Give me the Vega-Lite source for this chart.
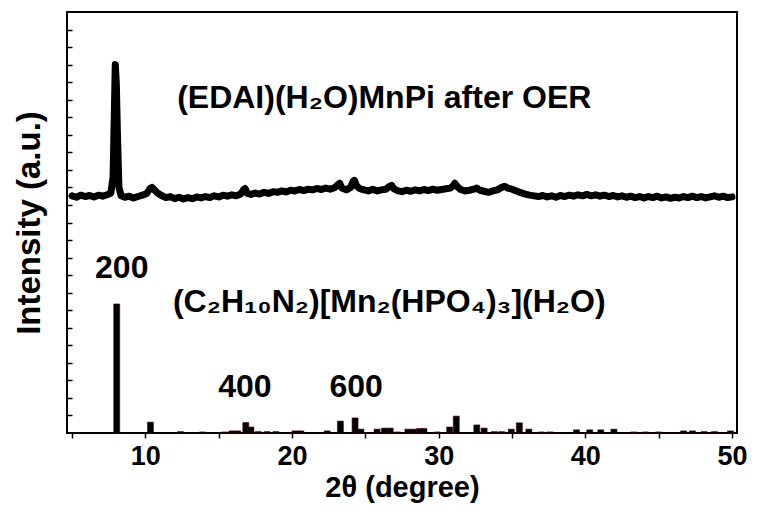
{
  "$schema": "https://vega.github.io/schema/vega-lite/v6.json",
  "width": 670,
  "height": 421,
  "autosize": "none",
  "padding": {"left": 67, "top": 12, "right": 20, "bottom": 78},
  "background": "white",
  "config": {
    "view": {"stroke": "black", "strokeWidth": 2},
    "font": "Liberation Sans",
    "axis": {"grid": false, "domain": false, "tickColor": "black", "labelColor": "black", "titleColor": "black", "labelFont": "Liberation Sans", "titleFont": "Liberation Sans"}
  },
  "datasets": {
    "trace": [
      {"t": 5.0, "v": 676}, {"t": 5.3, "v": 672}, {"t": 5.6, "v": 678}, {"t": 5.9, "v": 674}, {"t": 6.2, "v": 677}, {"t": 6.5, "v": 673}, {"t": 6.8, "v": 678}, {"t": 7.1, "v": 675}, {"t": 7.4, "v": 679}, {"t": 7.65, "v": 684}, {"t": 7.8, "v": 730}, {"t": 7.88, "v": 900}, {"t": 7.95, "v": 1050}, {"t": 8.02, "v": 1000}, {"t": 8.1, "v": 850}, {"t": 8.2, "v": 700}, {"t": 8.35, "v": 676}, {"t": 8.6, "v": 672}, {"t": 8.9, "v": 675}, {"t": 9.2, "v": 670}, {"t": 9.5, "v": 674}, {"t": 9.8, "v": 678}, {"t": 10.1, "v": 683}, {"t": 10.3, "v": 696}, {"t": 10.45, "v": 700}, {"t": 10.6, "v": 694}, {"t": 10.8, "v": 685}, {"t": 11.1, "v": 677}, {"t": 11.4, "v": 671}, {"t": 11.7, "v": 674}, {"t": 12.0, "v": 668}, {"t": 12.3, "v": 672}, {"t": 12.6, "v": 667}, {"t": 12.9, "v": 671}, {"t": 13.2, "v": 668}, {"t": 13.5, "v": 673}, {"t": 13.8, "v": 670}, {"t": 14.1, "v": 674}, {"t": 14.4, "v": 671}, {"t": 14.7, "v": 676}, {"t": 15.0, "v": 673}, {"t": 15.3, "v": 678}, {"t": 15.6, "v": 675}, {"t": 15.9, "v": 679}, {"t": 16.2, "v": 676}, {"t": 16.5, "v": 681}, {"t": 16.7, "v": 694}, {"t": 16.8, "v": 697}, {"t": 16.95, "v": 683}, {"t": 17.2, "v": 680}, {"t": 17.5, "v": 684}, {"t": 17.8, "v": 681}, {"t": 18.1, "v": 686}, {"t": 18.4, "v": 683}, {"t": 18.7, "v": 688}, {"t": 19.0, "v": 686}, {"t": 19.3, "v": 690}, {"t": 19.6, "v": 687}, {"t": 19.9, "v": 692}, {"t": 20.2, "v": 690}, {"t": 20.5, "v": 694}, {"t": 20.8, "v": 691}, {"t": 21.1, "v": 695}, {"t": 21.4, "v": 693}, {"t": 21.7, "v": 697}, {"t": 22.0, "v": 694}, {"t": 22.3, "v": 698}, {"t": 22.6, "v": 695}, {"t": 22.9, "v": 699}, {"t": 23.1, "v": 707}, {"t": 23.25, "v": 712}, {"t": 23.4, "v": 698}, {"t": 23.7, "v": 693}, {"t": 24.0, "v": 700}, {"t": 24.15, "v": 716}, {"t": 24.25, "v": 720}, {"t": 24.4, "v": 705}, {"t": 24.6, "v": 697}, {"t": 24.9, "v": 693}, {"t": 25.2, "v": 690}, {"t": 25.5, "v": 695}, {"t": 25.8, "v": 690}, {"t": 26.1, "v": 693}, {"t": 26.4, "v": 695}, {"t": 26.65, "v": 703}, {"t": 26.8, "v": 706}, {"t": 26.95, "v": 696}, {"t": 27.2, "v": 691}, {"t": 27.5, "v": 688}, {"t": 27.8, "v": 692}, {"t": 28.1, "v": 689}, {"t": 28.4, "v": 693}, {"t": 28.7, "v": 690}, {"t": 29.0, "v": 694}, {"t": 29.3, "v": 691}, {"t": 29.6, "v": 695}, {"t": 29.9, "v": 692}, {"t": 30.2, "v": 694}, {"t": 30.5, "v": 696}, {"t": 30.8, "v": 698}, {"t": 31.0, "v": 705}, {"t": 31.1, "v": 712}, {"t": 31.25, "v": 703}, {"t": 31.5, "v": 694}, {"t": 31.8, "v": 690}, {"t": 32.1, "v": 692}, {"t": 32.4, "v": 695}, {"t": 32.6, "v": 698}, {"t": 32.8, "v": 692}, {"t": 33.1, "v": 689}, {"t": 33.4, "v": 686}, {"t": 33.7, "v": 690}, {"t": 34.0, "v": 693}, {"t": 34.3, "v": 700}, {"t": 34.5, "v": 703}, {"t": 34.7, "v": 698}, {"t": 35.0, "v": 695}, {"t": 35.3, "v": 690}, {"t": 35.6, "v": 685}, {"t": 35.9, "v": 681}, {"t": 36.2, "v": 678}, {"t": 36.5, "v": 676}, {"t": 36.8, "v": 674}, {"t": 37.1, "v": 677}, {"t": 37.4, "v": 673}, {"t": 37.7, "v": 676}, {"t": 38.0, "v": 672}, {"t": 38.3, "v": 677}, {"t": 38.6, "v": 674}, {"t": 38.9, "v": 678}, {"t": 39.2, "v": 675}, {"t": 39.5, "v": 679}, {"t": 39.8, "v": 676}, {"t": 40.1, "v": 680}, {"t": 40.4, "v": 676}, {"t": 40.7, "v": 679}, {"t": 41.0, "v": 675}, {"t": 41.3, "v": 678}, {"t": 41.6, "v": 674}, {"t": 41.9, "v": 677}, {"t": 42.2, "v": 673}, {"t": 42.5, "v": 676}, {"t": 42.8, "v": 672}, {"t": 43.1, "v": 675}, {"t": 43.4, "v": 671}, {"t": 43.7, "v": 674}, {"t": 44.0, "v": 670}, {"t": 44.3, "v": 674}, {"t": 44.6, "v": 671}, {"t": 44.9, "v": 675}, {"t": 45.2, "v": 670}, {"t": 45.5, "v": 673}, {"t": 45.8, "v": 669}, {"t": 46.1, "v": 672}, {"t": 46.4, "v": 670}, {"t": 46.7, "v": 674}, {"t": 47.0, "v": 671}, {"t": 47.3, "v": 675}, {"t": 47.6, "v": 671}, {"t": 47.9, "v": 674}, {"t": 48.2, "v": 670}, {"t": 48.5, "v": 673}, {"t": 48.8, "v": 676}, {"t": 49.1, "v": 672}, {"t": 49.4, "v": 675}, {"t": 49.7, "v": 671}, {"t": 50.0, "v": 673}
    ],
    "sticks": [
      {"t": 8.05, "v": 368}, {"t": 10.35, "v": 31}, {"t": 12.4, "v": 4}, {"t": 13.9, "v": 3}, {"t": 15.4, "v": 3}, {"t": 15.9, "v": 6}, {"t": 16.3, "v": 6}, {"t": 16.85, "v": 30}, {"t": 17.2, "v": 17}, {"t": 17.7, "v": 4}, {"t": 18.3, "v": 4}, {"t": 18.9, "v": 4}, {"t": 20.2, "v": 6}, {"t": 20.6, "v": 6}, {"t": 22.4, "v": 6}, {"t": 23.3, "v": 34}, {"t": 24.3, "v": 43}, {"t": 24.7, "v": 11}, {"t": 25.8, "v": 11}, {"t": 26.3, "v": 14}, {"t": 26.7, "v": 14}, {"t": 27.2, "v": 3}, {"t": 27.9, "v": 11}, {"t": 28.3, "v": 11}, {"t": 28.7, "v": 13}, {"t": 29.0, "v": 13}, {"t": 29.9, "v": 3}, {"t": 30.75, "v": 17}, {"t": 31.2, "v": 48}, {"t": 32.6, "v": 23}, {"t": 33.1, "v": 14}, {"t": 33.8, "v": 4}, {"t": 34.3, "v": 4}, {"t": 34.95, "v": 11}, {"t": 35.5, "v": 29}, {"t": 36.15, "v": 11}, {"t": 37.0, "v": 3}, {"t": 37.6, "v": 3}, {"t": 39.4, "v": 9}, {"t": 40.3, "v": 9}, {"t": 41.05, "v": 9}, {"t": 41.95, "v": 11}, {"t": 43.3, "v": 3}, {"t": 44.1, "v": 3}, {"t": 45.0, "v": 3}, {"t": 46.7, "v": 6}, {"t": 47.3, "v": 6}, {"t": 48.1, "v": 4}, {"t": 48.8, "v": 4}, {"t": 49.9, "v": 6}
    ],
    "notes": [
      {"t": 26.29, "v": 955, "label": "(EDAI)(H₂O)MnPi after OER"},
      {"t": 26.63, "v": 373, "label": "(C₂H₁₀N₂)[Mn₂(HPO₄)₃](H₂O)"},
      {"t": 8.39, "v": 470, "label": "200"},
      {"t": 16.79, "v": 131, "label": "400"},
      {"t": 24.37, "v": 131, "label": "600"}
    ]
  },
  "encoding": {
    "x": {"field": "t", "type": "quantitative", "scale": {"domain": [5, 50], "nice": false, "zero": false},
      "axis": {"orient": "bottom", "values": [5, 10, 15, 20, 25, 30, 35, 40, 45, 50], "labelExpr": "datum.value % 10 == 0 ? datum.label : ''",
        "tickSize": 5, "tickWidth": 1.5, "labelFontSize": 27, "labelFontWeight": "bold", "labelPadding": 5, "labelFlush": false,
        "title": "2θ (degree)", "titleFontSize": 29, "titleFontWeight": "bold", "titlePadding": 4}},
    "y": {"field": "v", "type": "quantitative", "scale": {"domain": [0, 1200], "nice": false},
      "axis": {"orient": "left", "values": [50, 100, 150, 200, 250, 300, 350, 400, 450, 500, 550, 600, 650, 700, 750, 800, 850, 900, 950, 1000, 1050, 1100, 1150], "labels": false, "tickSize": -5, "tickWidth": 1.5,
        "title": "Intensity (a.u.)", "titleFontSize": 33, "titleFontWeight": "bold", "titlePadding": 20}}
  },
  "layer": [
    {
      "data": {"name": "sticks"},
      "mark": {"type": "bar", "size": 6, "color": "black", "stroke": "#4a0808", "strokeWidth": 0.6}
    },
    {
      "data": {"name": "trace"},
      "mark": {"type": "line", "color": "black", "strokeWidth": 7, "strokeJoin": "round", "strokeCap": "round"}
    },
    {
      "data": {"name": "notes"},
      "mark": {"type": "text", "fontSize": 32, "fontWeight": "bold", "font": "Liberation Sans", "color": "black", "align": "center", "baseline": "middle"},
      "encoding": {
        "text": {"field": "label"}
      }
    }
  ]
}
